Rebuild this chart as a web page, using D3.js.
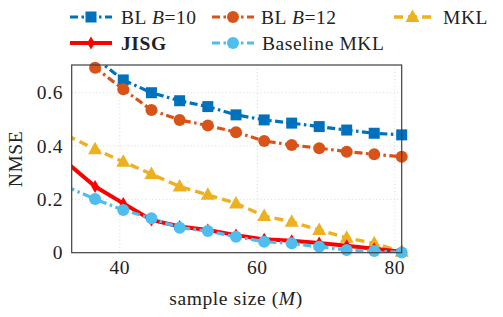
<!DOCTYPE html>
<html><head><meta charset="utf-8">
<script src="https://cdn.jsdelivr.net/npm/d3@7"></script>
<style>body{margin:0;background:#fff}svg{display:block}</style>
</head><body><svg id="c" width="503" height="317"></svg>
<script>
const sampleSize = [32.3, 36.4, 40.5, 44.6, 48.7, 52.8, 56.9, 61, 65, 69, 73, 77, 81];
const blB10   = [0.80, 0.73, 0.648, 0.600, 0.570, 0.548, 0.517, 0.498, 0.486, 0.473, 0.460, 0.448, 0.442];
const blB12   = [0.78, 0.694, 0.613, 0.535, 0.498, 0.477, 0.452, 0.419, 0.404, 0.392, 0.379, 0.369, 0.360];
const mkl     = [0.44, 0.388, 0.341, 0.295, 0.248, 0.217, 0.185, 0.138, 0.116, 0.085, 0.056, 0.035, 0.004];
const jisg    = [0.338, 0.248, 0.185, 0.123, 0.098, 0.085, 0.066, 0.050, 0.045, 0.036, 0.026, 0.015, 0.004];
const baseMKL = [0.247, 0.201, 0.160, 0.129, 0.094, 0.081, 0.060, 0.041, 0.035, 0.022, 0.010, 0.006, 0.001];
const xTicks = [40, 60, 80];
const yTicks = [0, 0.2, 0.4, 0.6];
const seriesNames = ["BL B=10", "BL B=12", "MKL", "JISG", "Baseline MKL"];

const FONT = "'Liberation Serif', 'DejaVu Serif', serif";
const FS = 19.5;
const LS = 0.6;
const svg = d3.select("#c");
const L = 71.7, R = 401.7, T = 65, B = 252.7;
const x = d3.scaleLinear().domain([33, 81]).range([L, R]);
const y = d3.scaleLinear().domain([0, 0.704]).range([B, T]);

const DD = "8 3.5 2.5 3.5";
const series = [
  {name: seriesNames[0], vals: blB10, color: "#0072BD", dash: DD, w: 3.2, marker: "square"},
  {name: seriesNames[1], vals: blB12, color: "#D95319", dash: DD, w: 3.2, marker: "circle"},
  {name: seriesNames[2], vals: mkl, color: "#EDB120", dash: "9 5", w: 3.4, marker: "triangle"},
  {name: seriesNames[3], vals: jisg, color: "#FF0000", dash: null, w: 4, marker: "diamond"},
  {name: seriesNames[4], vals: baseMKL, color: "#4DBEEE", dash: DD, w: 3.2, marker: "circle"}
];

svg.append("defs").append("clipPath").attr("id", "clip")
  .append("rect").attr("x", L).attr("y", T).attr("width", R - L).attr("height", B - T);

const grid = svg.append("g").attr("stroke", "#cfcfcf").attr("stroke-width", 0.8).attr("stroke-dasharray", "1 2.5");
xTicks.forEach(t => grid.append("line").attr("x1", x(t)).attr("x2", x(t)).attr("y1", T).attr("y2", B));
yTicks.filter(t => t > 0).forEach(t => grid.append("line").attr("x1", L).attr("x2", R).attr("y1", y(t)).attr("y2", y(t)));

function drawMarker(g, m, cx, cy, color) {
  if (m === "square") g.append("rect").attr("x", cx - 5.5).attr("y", cy - 5.5).attr("width", 11).attr("height", 11).attr("fill", color);
  else if (m === "circle") g.append("circle").attr("cx", cx).attr("cy", cy).attr("r", 6).attr("fill", color);
  else if (m === "triangle") g.append("path").attr("d", `M${cx},${cy-7.5}L${cx+7},${cy+5}L${cx-7},${cy+5}Z`).attr("fill", color);
  else if (m === "diamond") g.append("path").attr("d", `M${cx},${cy-6.5}L${cx+3.8},${cy}L${cx},${cy+6.5}L${cx-3.8},${cy}Z`).attr("fill", color);
}

const line = d3.line().x((d, i) => x(sampleSize[i])).y(d => y(d));
series.forEach(s => {
  svg.append("path").datum(s.vals).attr("clip-path", "url(#clip)")
    .attr("d", line).attr("fill", "none").attr("stroke", s.color).attr("stroke-width", s.w)
    .attr("stroke-dasharray", s.dash).attr("stroke-linejoin", "round");
  const mg = svg.append("g");
  s.vals.forEach((v, i) => {
    const xv = sampleSize[i];
    if (xv >= 33 - 1e-9 && xv <= 81 + 1e-9 && v <= 0.704) drawMarker(mg, s.marker, x(xv), y(v), s.color);
  });
});

svg.append("rect").attr("x", L).attr("y", T).attr("width", R - L).attr("height", B - T)
  .attr("fill", "none").attr("stroke", "#404040").attr("stroke-width", 1.2);

function txt(xp, yp, anchor) {
  return svg.append("text").attr("x", xp).attr("y", yp).attr("text-anchor", anchor)
    .attr("font-family", FONT).attr("font-size", FS).attr("letter-spacing", LS).attr("fill", "#222");
}
xTicks.forEach(t => txt(x(t), 274, "middle").text(t));
yTicks.forEach(t => txt(63, y(t) + 6.5, "end").text(t === 0 ? "0" : t.toFixed(1)));

const xl = txt(236, 305, "middle");
xl.append("tspan").text("sample size (");
xl.append("tspan").attr("font-style", "italic").text("M");
xl.append("tspan").text(")");
txt(0, 0, "middle").attr("transform", "translate(22,159) rotate(-90)").text("NMSE");

const leg = [
  {s: series[0], x0: 70, tx: 121, y: 17},
  {s: series[1], x0: 212, tx: 261, y: 17},
  {s: series[2], x0: 394, tx: 443, y: 17},
  {s: series[3], x0: 70, tx: 121, y: 43},
  {s: series[4], x0: 212, tx: 262, y: 43}
];
leg.forEach(l => {
  const g = svg.append("g");
  const len = l.s.marker === "triangle" ? 37 : 42;
  g.append("line").attr("x1", l.x0).attr("x2", l.x0 + len).attr("y1", l.y).attr("y2", l.y)
    .attr("stroke", l.s.color).attr("stroke-width", l.s.w).attr("stroke-dasharray", l.s.dash);
  drawMarker(g, l.s.marker, l.x0 + len / 2, l.y, l.s.color);
  const t = txt(l.tx, l.y + 6.5, "start");
  const n = l.s.name;
  if (n.startsWith("BL ")) {
    t.append("tspan").text("BL ");
    t.append("tspan").attr("font-style", "italic").text("B");
    t.append("tspan").text(n.slice(4));
  } else if (n === "JISG") {
    t.attr("font-weight", "bold").text(n);
  } else t.text(n);
});
</script></body></html>
